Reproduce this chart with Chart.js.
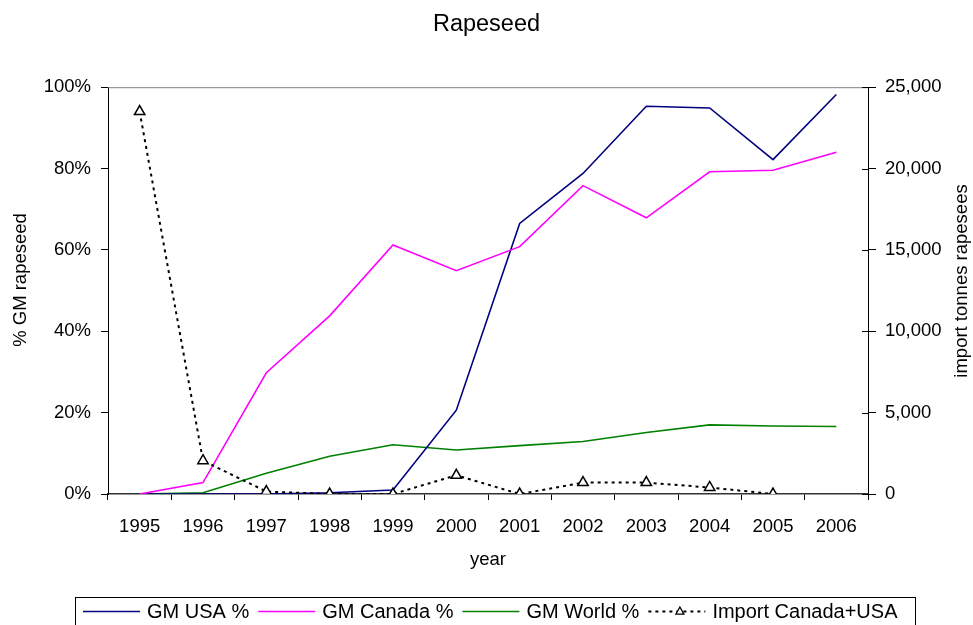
<!DOCTYPE html>
<html>
<head>
<meta charset="utf-8">
<title>Rapeseed</title>
<script src="https://cdn.jsdelivr.net/npm/chart.js@4/dist/chart.umd.min.js"></script>
<style>
  html, body { margin: 0; padding: 0; background: #fff; }
  #wrap { width: 973px; height: 625px; }
</style>
</head>
<body>
<div id="wrap"><canvas id="c" width="973" height="625"></canvas></div>
<script>
// Years on the category axis
const years = ['1995', '1996', '1997', '1998', '1999', '2000', '2001', '2002', '2003', '2004', '2005', '2006'];

// Share of GM rapeseed (percent)
const gmUsa    = [0, 0, 0, 0.3, 1.0, 20.6, 66.5, 78.8, 95.3, 94.9, 82.2, 98.2];
const gmCanada = [0, 2.8, 29.8, 43.8, 61.2, 54.9, 60.8, 75.8, 67.9, 79.2, 79.6, 84.0];
const gmWorld  = [0, 0.3, 5.1, 9.3, 12.1, 10.8, 11.9, 12.9, 15.1, 17.0, 16.7, 16.6];

// Imports from Canada + USA (tonnes)
const importTonnes = [23500, 2050, 150, 0, 0, 1150, 0, 700, 700, 400, 0, null];

// Axis ticks
const pctTicks = [0, 20, 40, 60, 80, 100];
const tonneTicks = [0, 5000, 10000, 15000, 20000, 25000];

const FONT = '"Liberation Sans", Arial, sans-serif';
Chart.defaults.font.family = FONT;
Chart.defaults.color = '#000';

// Frame details, vertical axis titles and the boxed legend along the bottom
const framePlugin = {
  id: 'frame',
  afterDraw(chart) {
    const ctx = chart.ctx;
    const a = chart.chartArea;
    ctx.save();
    // grey top edge of the plot area
    ctx.strokeStyle = '#808080';
    ctx.lineWidth = 1;
    ctx.beginPath();
    ctx.moveTo(a.left, a.top + 0.5);
    ctx.lineTo(a.right, a.top + 0.5);
    ctx.stroke();

    // inner tick marks on the right axis
    const y1 = chart.scales.y1;
    ctx.strokeStyle = '#000';
    y1.ticks.forEach(t => {
      const py = Math.round(y1.getPixelForValue(t.value)) + 0.5;
      ctx.beginPath();
      ctx.moveTo(a.right - 6, py);
      ctx.lineTo(a.right, py);
      ctx.stroke();
    });
    ctx.restore();

    // axis titles, both reading bottom to top
    const axisTitle = (text, x, y) => {
      ctx.save();
      ctx.fillStyle = '#000';
      ctx.font = '18.5px ' + FONT;
      ctx.textAlign = 'center';
      ctx.textBaseline = 'middle';
      ctx.translate(x, y);
      ctx.rotate(-Math.PI / 2);
      ctx.fillText(text, 0, 0);
      ctx.restore();
    };
    axisTitle('% GM rapeseed', 21, 280);
    axisTitle('import tonnes rapesees', 962, 281);

    // legend box
    ctx.save();
    ctx.strokeStyle = '#000';
    ctx.lineWidth = 1;
    ctx.strokeRect(75.5, 597.5, 840, 40);
    ctx.font = '20px ' + FONT;
    ctx.textBaseline = 'middle';
    ctx.textAlign = 'left';
    const ly = 611;
    let x = 83;
    chart.data.datasets.forEach(ds => {
      const sampleW = 57;
      ctx.save();
      ctx.strokeStyle = ds.borderColor;
      ctx.lineWidth = ds.borderWidth;
      ctx.setLineDash(ds.borderDash || []);
      ctx.beginPath();
      ctx.moveTo(x, ly + 0.5);
      ctx.lineTo(x + sampleW, ly + 0.5);
      ctx.stroke();
      ctx.restore();
      if (ds.pointRadius > 0) {
        const cx = x + sampleW / 2 + 3, r = 4;
        ctx.save();
        ctx.fillStyle = '#fff';
        ctx.strokeStyle = '#000';
        ctx.lineWidth = 1.3;
        ctx.beginPath();
        ctx.moveTo(cx, ly - r);
        ctx.lineTo(cx + r, ly + r * 0.8);
        ctx.lineTo(cx - r, ly + r * 0.8);
        ctx.closePath();
        ctx.fill();
        ctx.stroke();
        ctx.restore();
      }
      x += sampleW + 7;
      ctx.fillStyle = '#000';
      ctx.fillText(ds.label, x, ly + 1);
      x += ctx.measureText(ds.label).width + 9;
    });
    ctx.restore();
  }
};

new Chart(document.getElementById('c'), {
  type: 'line',
  data: {
    labels: years,
    datasets: [
      { label: 'GM USA %', data: gmUsa, yAxisID: 'y', borderColor: '#000080', borderWidth: 1.6, pointRadius: 0, tension: 0, order: 3 },
      { label: 'GM Canada %', data: gmCanada, yAxisID: 'y', borderColor: '#ff00ff', borderWidth: 1.6, pointRadius: 0, tension: 0, order: 2 },
      { label: 'GM World %', data: gmWorld, yAxisID: 'y', borderColor: '#008000', borderWidth: 1.6, pointRadius: 0, tension: 0, order: 4 },
      { label: 'Import Canada+USA', data: importTonnes, yAxisID: 'y1', borderColor: '#000', borderWidth: 2, borderDash: [3, 4],
        pointStyle: 'triangle', pointRadius: 6, pointBackgroundColor: '#fff', pointBorderColor: '#000', pointBorderWidth: 1.5,
        tension: 0, order: 1, spanGaps: false }
    ]
  },
  options: {
    responsive: false,
    devicePixelRatio: 1,
    animation: false,
    events: [],
    layout: { padding: { left: 0, right: 0, top: 0, bottom: 53 } },
    plugins: {
      legend: { display: false },
      tooltip: { enabled: false },
      title: {
        display: true,
        text: 'Rapeseed',
        color: '#000',
        font: { size: 23.5, weight: 'normal', family: FONT },
        padding: { top: 10, bottom: 49 }
      }
    },
    scales: {
      x: {
        offset: true,
        grid: { display: true, offset: true, drawOnChartArea: false, drawTicks: true, tickLength: 6, color: '#000' },
        border: { display: true, color: '#333', width: 1.5 },
        ticks: { font: { size: 18.5 }, color: '#000', padding: 16, maxRotation: 0, autoSkip: false },
        title: { display: true, text: 'year', font: { size: 18.5 }, color: '#000', padding: { top: 0, bottom: 1 } },
        afterFit(scale) { scale.height = 78; }
      },
      y: {
        position: 'left',
        min: 0, max: 100,
        afterBuildTicks(scale) { scale.ticks = pctTicks.map(v => ({ value: v })); },
        grid: { drawOnChartArea: false, tickLength: 7, color: '#000' },
        border: { display: true, color: '#000', width: 1 },
        ticks: { font: { size: 18.5 }, color: '#000', padding: 10, callback: v => v + '%' },
        afterFit(scale) { scale.width = 108; }
      },
      y1: {
        position: 'right',
        min: 0, max: 25000,
        afterBuildTicks(scale) { scale.ticks = tonneTicks.map(v => ({ value: v })); },
        grid: { drawOnChartArea: false, tickLength: 8, color: '#000' },
        border: { display: true, color: '#000', width: 1 },
        ticks: { font: { size: 18.5 }, color: '#000', padding: 9, callback: v => v.toLocaleString('en-US') },
        afterFit(scale) { scale.width = 105; }
      }
    }
  },
  plugins: [framePlugin]
});
</script>
</body>
</html>
